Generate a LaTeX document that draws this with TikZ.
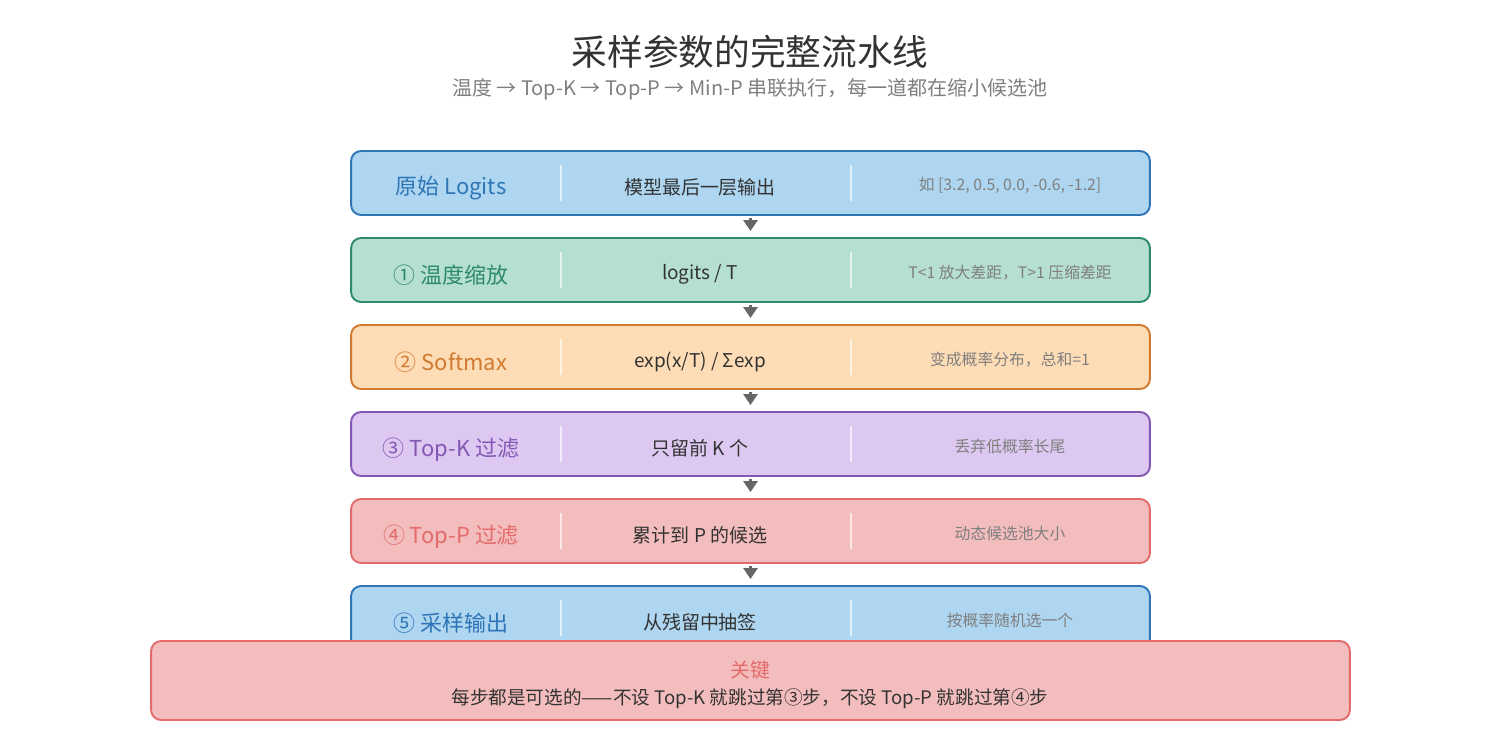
\documentclass[tikz,border=0pt]{standalone}
\usepackage{fontspec}
\setmainfont{Noto Sans CJK SC}
\usetikzlibrary{arrows.meta}
\definecolor{bluefill}{HTML}{AED6F1}
\definecolor{blueline}{HTML}{2E75B6}
\definecolor{greenfill}{HTML}{B5DFD1}
\definecolor{greenline}{HTML}{2E8B6A}
\definecolor{orangefill}{HTML}{FEDCB6}
\definecolor{orangeline}{HTML}{CF7A30}
\definecolor{purplefill}{HTML}{DCC8F0}
\definecolor{purpleline}{HTML}{8357B3}
\definecolor{redfill}{HTML}{F4BDBD}
\definecolor{redline}{HTML}{E36B6B}
\definecolor{darktext}{HTML}{333333}
\definecolor{graytext}{HTML}{7F7F7F}
\definecolor{arrowgray}{HTML}{666666}
\newcommand\pipestep[6]{%
  \node[stepbox, fill=#3fill, draw=#3line] (#1) at (750.5,#2) {};
  \draw[divider] (561,#2-18) -- (561,#2+18);
  \draw[divider] (851,#2-18) -- (851,#2+18);
  \node[leftlabel, text=#3line] (#1-l) at (451,#2+5.5) {#4};
  \node[midlabel] (#1-m) at (700,#2+4.5) {#5};
  \node[rightlabel] (#1-r) at (1010,#2+2.5) {#6};
}
\begin{document}
\begin{tikzpicture}[x=0.02cm,y=-0.02cm,
  stepbox/.style={rectangle, rounded corners=0.2cm, line width=1.1pt,
    minimum width=15.98cm, minimum height=1.28cm, inner sep=0pt},
  keybox/.style={rectangle, rounded corners=0.2cm, line width=1.1pt,
    minimum width=23.98cm, minimum height=1.58cm, inner sep=0pt,
    fill=redfill, draw=redline},
  divider/.style={draw=white, draw opacity=0.65, line width=1.1pt},
  leftlabel/.style={font=\fontsize{12.5}{14}\selectfont, inner sep=0pt},
  midlabel/.style={font=\fontsize{10.8}{13}\selectfont, text=darktext, inner sep=0pt},
  rightlabel/.style={font=\fontsize{9}{11}\selectfont, text=graytext, inner sep=0pt},
  flow/.style={draw=arrowgray, line width=1.8pt,
    -{Triangle[width=0.28cm,length=0.22cm]}, shorten <=0.04cm, shorten >=0.12cm}
]
\useasboundingbox (0,0) rectangle (1500,750);

\node[font=\fontsize{20.3}{23}\selectfont, text=darktext] (title) at (750,52) {采样参数的完整流水线};
\node[font=\fontsize{11.4}{13}\selectfont, text=graytext] (subtitle) at (750,89)
  {温度 → Top-K → Top-P → Min-P 串联执行，每一道都在缩小候选池};

\pipestep{s0}{183}{blue}{原始 Logits}{模型最后一层输出}{如 [3.2, 0.5, 0.0, -0.6, -1.2]}
\pipestep{s1}{270}{green}{① 温度缩放}{logits / T}{T<1 放大差距，T>1 压缩差距}
\pipestep{s2}{357}{orange}{② Softmax}{exp(x/T) / Σexp}{变成概率分布，总和=1}
\pipestep{s3}{444}{purple}{③ Top-K 过滤}{只留前 K 个}{丢弃低概率长尾}
\pipestep{s4}{531}{red}{④ Top-P 过滤}{累计到 P 的候选}{动态候选池大小}
\pipestep{s5}{618}{blue}{⑤ 采样输出}{从残留中抽签}{按概率随机选一个}

\draw[flow] (s0) -- (s1);
\draw[flow] (s1) -- (s2);
\draw[flow] (s2) -- (s3);
\draw[flow] (s3) -- (s4);
\draw[flow] (s4) -- (s5);

\node[keybox] (key) at (750.5,680.5) {};
\node[font=\fontsize{11.3}{13}\selectfont, text=redline] (keytitle) at (750,670) {关键};
\node[font=\fontsize{10.6}{13}\selectfont, text=darktext] (keytext) at (750,699)
  {每步都是可选的——不设 Top-K 就跳过第③步，不设 Top-P 就跳过第④步};
\end{tikzpicture}
\end{document}
